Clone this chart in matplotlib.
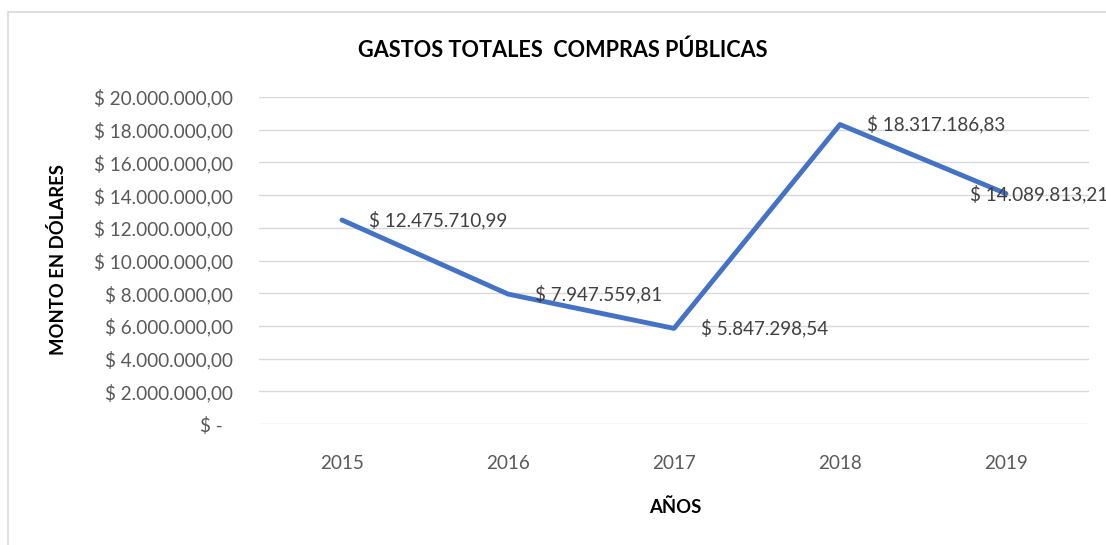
import matplotlib
matplotlib.use("Agg")
import matplotlib.pyplot as plt
from matplotlib.patches import Rectangle
from matplotlib.ticker import FuncFormatter

years = ["2015", "2016", "2017", "2018", "2019"]
values = [12475710.99, 7947559.81, 5847298.54, 18317186.83, 14089813.21]
labels = ["$ 12.475.710,99", "$ 7.947.559,81", "$ 5.847.298,54",
          "$ 18.317.186,83", "$ 14.089.813,21"]

plt.rcParams['font.family'] = ['Lato', 'DejaVu Sans']

FS = 13.6
W, H = 1106, 545
fig = plt.figure(figsize=(W / 100, H / 100), dpi=100)
# chart border (partly clipped by the image edges)
fig.patches.append(Rectangle((8 / W, -0.05), 1.2, 1 - 12 / H + 0.05,
                             transform=fig.transFigure, fill=False,
                             edgecolor='#D9D9D9', linewidth=1.2))

ax = fig.add_axes([259 / W, 1 - 424 / H, 830 / W, 327 / H])
x = list(range(len(years)))
ax.plot(x, values, color='#4472C4', linewidth=3.5, solid_capstyle='round',
        solid_joinstyle='round', zorder=3)
ax.set_xlim(-0.5, len(years) - 0.5)
ax.set_ylim(0, 20000000)
ax.set_yticks(range(0, 20000001, 2000000))


def fmt(v, pos):
    if v == 0:
        return "$ -  "
    s = f"{v:,.2f}".replace(",", "X").replace(".", ",").replace("X", ".")
    return "$ " + s


ax.yaxis.set_major_formatter(FuncFormatter(fmt))
ax.set_xticks(x)
ax.set_xticklabels(years)
ax.grid(axis='y', color='#D9D9D9', linewidth=1.0)
ax.set_axisbelow(True)
for s in ax.spines.values():
    s.set_visible(False)
ax.tick_params(axis='both', length=0, labelsize=FS, colors='#595959')
ax.tick_params(axis='y', pad=19)
ax.tick_params(axis='x', pad=22)

offsets = [27, 27, 27, 27, -36]
for i, (v, lab) in enumerate(zip(values, labels)):
    ax.annotate(lab, (i, v), xytext=(offsets[i], 0), textcoords='offset pixels',
                ha='left', va='center', fontsize=FS, color='#404040', zorder=4,
                annotation_clip=False)

fig.text(563 / W, 1 - 50 / H, "GASTOS TOTALES  COMPRAS PÚBLICAS",
         ha='center', va='center', fontsize=15.6, fontweight='bold', color='black')
fig.text(675 / W, 1 - 507 / H, "AÑOS", ha='center', va='center',
         fontsize=13.3, fontweight='bold', color='black')
fig.text(58 / W, 1 - 260 / H, "MONTO EN DÓLARES", ha='center', va='center',
         rotation=90, fontsize=13.3, fontweight='bold', color='black')

fig.savefig("out.png", dpi=100)
